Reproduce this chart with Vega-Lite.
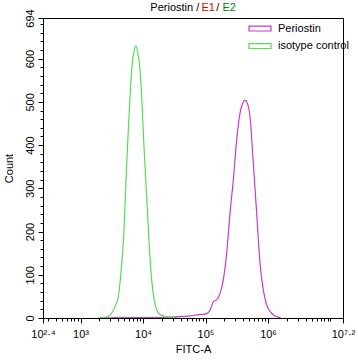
{
  "$schema": "https://vega.github.io/schema/vega-lite/v6.json",
  "width": 300,
  "height": 300,
  "autosize": "none",
  "padding": {"left": 43, "top": 18, "right": 15, "bottom": 43},
  "background": "white",
  "config": {
    "view": {"stroke": "black", "strokeWidth": 1},
    "font": "Liberation Sans",
    "axis": {
      "grid": false,
      "domainColor": "black",
      "tickColor": "black",
      "labelColor": "black",
      "labelFont": "Liberation Sans",
      "labelFontSize": 11,
      "titleFont": "Liberation Sans",
      "titleFontSize": 11,
      "titleFontWeight": "normal",
      "titleColor": "black"
    },
    "legend": {
      "labelFont": "Liberation Sans",
      "labelFontSize": 11,
      "labelColor": "black"
    }
  },
  "layer": [
    {
      "data": {
        "values": [
          {"series": "Periostin", "lg": 3.31, "count": 0},
          {"series": "Periostin", "lg": 3.63, "count": 1},
          {"series": "Periostin", "lg": 4.11, "count": 1},
          {"series": "Periostin", "lg": 4.59, "count": 3},
          {"series": "Periostin", "lg": 4.752, "count": 5},
          {"series": "Periostin", "lg": 4.9, "count": 8},
          {"series": "Periostin", "lg": 4.992, "count": 9},
          {"series": "Periostin", "lg": 5.04, "count": 12},
          {"series": "Periostin", "lg": 5.072, "count": 18},
          {"series": "Periostin", "lg": 5.1, "count": 28},
          {"series": "Periostin", "lg": 5.125, "count": 38},
          {"series": "Periostin", "lg": 5.179, "count": 42},
          {"series": "Periostin", "lg": 5.232, "count": 57},
          {"series": "Periostin", "lg": 5.285, "count": 88},
          {"series": "Periostin", "lg": 5.339, "count": 150},
          {"series": "Periostin", "lg": 5.392, "count": 242},
          {"series": "Periostin", "lg": 5.445, "count": 319},
          {"series": "Periostin", "lg": 5.499, "count": 412},
          {"series": "Periostin", "lg": 5.552, "count": 474},
          {"series": "Periostin", "lg": 5.595, "count": 497},
          {"series": "Periostin", "lg": 5.632, "count": 504},
          {"series": "Periostin", "lg": 5.669, "count": 497},
          {"series": "Periostin", "lg": 5.712, "count": 466},
          {"series": "Periostin", "lg": 5.765, "count": 358},
          {"series": "Periostin", "lg": 5.819, "count": 242},
          {"series": "Periostin", "lg": 5.872, "count": 127},
          {"series": "Periostin", "lg": 5.925, "count": 65},
          {"series": "Periostin", "lg": 5.979, "count": 30},
          {"series": "Periostin", "lg": 6.059, "count": 11},
          {"series": "Periostin", "lg": 6.12, "count": 4},
          {"series": "Periostin", "lg": 6.165, "count": 2},
          {"series": "Periostin", "lg": 6.2, "count": 0},
          {"series": "isotype control", "lg": 3.28, "count": 0},
          {"series": "isotype control", "lg": 3.35, "count": 1},
          {"series": "isotype control", "lg": 3.42, "count": 3},
          {"series": "isotype control", "lg": 3.48, "count": 8},
          {"series": "isotype control", "lg": 3.525, "count": 18},
          {"series": "isotype control", "lg": 3.57, "count": 32},
          {"series": "isotype control", "lg": 3.605, "count": 49},
          {"series": "isotype control", "lg": 3.635, "count": 85},
          {"series": "isotype control", "lg": 3.66, "count": 127},
          {"series": "isotype control", "lg": 3.696, "count": 204},
          {"series": "isotype control", "lg": 3.728, "count": 319},
          {"series": "isotype control", "lg": 3.765, "count": 435},
          {"series": "isotype control", "lg": 3.792, "count": 512},
          {"series": "isotype control", "lg": 3.829, "count": 590},
          {"series": "isotype control", "lg": 3.86, "count": 620},
          {"series": "isotype control", "lg": 3.888, "count": 629},
          {"series": "isotype control", "lg": 3.915, "count": 615},
          {"series": "isotype control", "lg": 3.941, "count": 590},
          {"series": "isotype control", "lg": 3.979, "count": 512},
          {"series": "isotype control", "lg": 4.016, "count": 396},
          {"series": "isotype control", "lg": 4.059, "count": 281},
          {"series": "isotype control", "lg": 4.101, "count": 165},
          {"series": "isotype control", "lg": 4.155, "count": 65},
          {"series": "isotype control", "lg": 4.2, "count": 28},
          {"series": "isotype control", "lg": 4.245, "count": 12},
          {"series": "isotype control", "lg": 4.3, "count": 6},
          {"series": "isotype control", "lg": 4.379, "count": 3},
          {"series": "isotype control", "lg": 4.48, "count": 1},
          {"series": "isotype control", "lg": 4.592, "count": 0}
        ]
      },
      "mark": {"type": "line", "interpolate": "monotone", "strokeWidth": 1.2, "clip": true},
      "encoding": {
        "x": {
          "field": "lg",
          "type": "quantitative",
          "scale": {"domain": [2.4, 7.2], "nice": false, "zero": false},
          "axis": {
            "title": "FITC-A",
            "values": [2.4, 2.477, 2.602, 2.699, 2.778, 2.845, 2.903, 2.954, 3, 3.301, 3.477, 3.602, 3.699, 3.778, 3.845, 3.903, 3.954, 4, 4.301, 4.477, 4.602, 4.699, 4.778, 4.845, 4.903, 4.954, 5, 5.301, 5.477, 5.602, 5.699, 5.778, 5.845, 5.903, 5.954, 6, 6.301, 6.477, 6.602, 6.699, 6.778, 6.845, 6.903, 6.954, 7, 7.2],
            "tickCount": 200,
            "labelExpr": "datum.value == 2.4 ? '10²·⁴' : datum.value == 3 ? '10³' : datum.value == 4 ? '10⁴' : datum.value == 5 ? '10⁵' : datum.value == 6 ? '10⁶' : datum.value == 7.2 ? '10⁷·²' : ''",
            "tickSize": 5,
            "tickDash": {"condition": {"test": "indexof([2.4, 3, 4, 5, 6, 7.2], datum.value) >= 0", "value": [10, 0]}, "value": [3, 10]},
            "labelPadding": 5,
            "labelOverlap": false,
            "labelFlush": false,
            "titlePadding": 4
          }
        },
        "y": {
          "field": "count",
          "type": "quantitative",
          "scale": {"domain": [0, 694], "nice": false, "zero": true},
          "axis": {
            "title": "Count",
            "values": [0, 20, 40, 60, 80, 100, 120, 140, 160, 180, 200, 220, 240, 260, 280, 300, 320, 340, 360, 380, 400, 420, 440, 460, 480, 500, 520, 540, 560, 580, 600, 620, 640, 660, 680, 694],
            "tickCount": 200,
            "labelExpr": "(datum.value % 100 == 0 || datum.value == 694) ? datum.label : ''",
            "tickSize": 5,
            "tickDash": {"condition": {"test": "datum.value % 100 == 0 || datum.value == 694", "value": [10, 0]}, "value": [3, 10]},
            "labelAngle": -90,
            "labelPadding": 3,
            "labelOverlap": false,
            "labelFlush": false,
            "titlePadding": 10
          }
        },
        "color": {
          "field": "series",
          "type": "nominal",
          "scale": {"domain": ["Periostin", "isotype control"], "range": ["#cc3acc", "#55dd55"]},
          "legend": {
            "title": null,
            "orient": "none",
            "legendX": 210.5,
            "legendY": 4,
            "padding": 0,
            "symbolType": "M-2,-0.45H2V0.45H-2Z",
            "symbolSize": 121,
            "symbolStrokeWidth": 1.2,
            "symbolFillColor": "transparent",
            "labelOffset": 11.5,
            "rowPadding": 5.5
          }
        }
      }
    },
    {
      "data": {"values": [{}]},
      "mark": {"type": "text", "align": "right", "baseline": "middle", "fontSize": 11, "font": "Liberation Sans", "color": "black"},
      "encoding": {"x": {"datum": 4.9, "type": "quantitative"}, "y": {"datum": 718, "type": "quantitative"}, "text": {"value": "Periostin /"}}
    },
    {
      "data": {"values": [{}]},
      "mark": {"type": "text", "align": "left", "baseline": "middle", "fontSize": 11, "font": "Liberation Sans", "color": "#dd0000"},
      "encoding": {"x": {"datum": 4.936, "type": "quantitative"}, "y": {"datum": 718, "type": "quantitative"}, "text": {"value": "E1"}}
    },
    {
      "data": {"values": [{}]},
      "mark": {"type": "text", "align": "left", "baseline": "middle", "fontSize": 11, "font": "Liberation Sans", "color": "black"},
      "encoding": {"x": {"datum": 5.17, "type": "quantitative"}, "y": {"datum": 718, "type": "quantitative"}, "text": {"value": "/"}}
    },
    {
      "data": {"values": [{}]},
      "mark": {"type": "text", "align": "left", "baseline": "middle", "fontSize": 11, "font": "Liberation Sans", "color": "#008800"},
      "encoding": {"x": {"datum": 5.27, "type": "quantitative"}, "y": {"datum": 718, "type": "quantitative"}, "text": {"value": "E2"}}
    }
  ]
}
